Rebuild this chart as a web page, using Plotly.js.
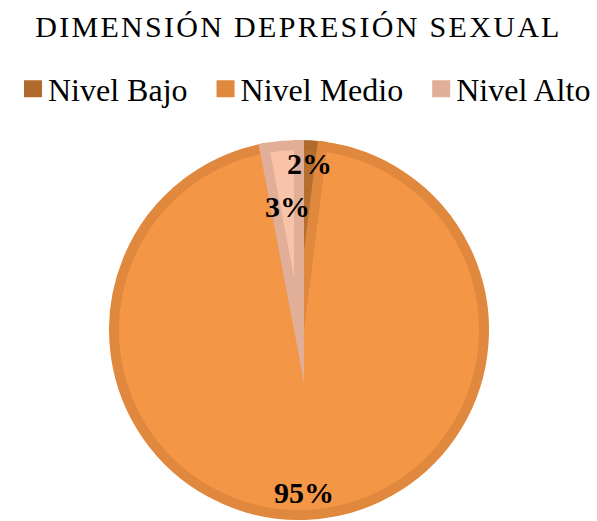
<!DOCTYPE html>
<html>
<head>
<meta charset="utf-8">
<script src="https://cdn.plot.ly/plotly-3.0.1.min.js"></script>
<style>
html, body { margin: 0; padding: 0; background: #fff; }
#chart { width: 597px; height: 521px; }
.slice path { stroke-miterlimit: 20 !important; stroke-linejoin: miter !important; }
.gtitle { letter-spacing: 2.3px; }
.legendpie { d: path("M4.5,4H-4.5V-4H4.5Z"); stroke-width: 9px !important; transform: translate(33px, 0px); }
</style>
</head>
<body>
<div id="chart"></div>
<script>
// ---- data ----
const categories = ["Nivel Bajo", "Nivel Medio", "Nivel Alto"];
const values = [2, 95, 3];
const chartTitle = "DIMENSIÓN DEPRESIÓN SEXUAL";

// ---- styles ----
const fillColors = ["#B5702F", "#F39646", "#F8C3A8"];
const lineColors = ["#B06B2C", "#E0883E", "#E1AE97"];
const labelRadius = [0.9, 0.88, 0.67];   // fraction of radius for value labels

const W = 597, H = 521;
const margin = {l: 0, r: 0, t: 140, b: 0, autoexpand: false};
const cx = 299, cy = 330, R = 185;   // pie centre / radius in pixels
const plotH = H - margin.t - margin.b, plotW = W - margin.l - margin.r;

const domain = {
  x: [(cx - R - margin.l) / plotW, (cx + R - margin.l) / plotW],
  y: [(H - margin.b - (cy + R)) / plotH, (H - margin.b - (cy - R)) / plotH]
};

const total = values.reduce((a, b) => a + b, 0);
const annotations = [];
let cum = 0;
values.forEach((v, i) => {
  const mid = (cum + v / 2) / total * 2 * Math.PI;
  cum += v;
  const r = labelRadius[i] * R;
  const px = cx + r * Math.sin(mid);
  const py = cy - r * Math.cos(mid);
  annotations.push({
    xref: "paper", yref: "paper",
    x: (px - margin.l) / plotW,
    y: (H - margin.b - py) / plotH,
    xanchor: "center", yanchor: "middle",
    showarrow: false,
    text: "<b>" + Math.round(v / total * 100) + "%</b>",
    font: {family: "Liberation Serif", size: 30, color: "#000"}
  });
});

const trace = {
  type: "pie",
  labels: categories,
  values: values,
  sort: false,
  direction: "clockwise",
  rotation: 0,
  textinfo: "none",
  hoverinfo: "label+percent",
  domain: domain,
  marker: {colors: fillColors, line: {color: lineColors, width: 10}}
};

const layout = {
  width: W, height: H,
  margin: margin,
  paper_bgcolor: "#fff",
  plot_bgcolor: "#fff",
  font: {family: "Liberation Serif", color: "#000"},
  title: {
    text: chartTitle,
    font: {family: "Liberation Serif", size: 30, color: "#000"},
    x: 0.5, xanchor: "center",
    y: 1 - 26 / H, yref: "container", yanchor: "middle"
  },
  showlegend: true,
  legend: {
    orientation: "h",
    x: 0, xanchor: "left",
    y: 1 - 89 / H, yref: "container", yanchor: "middle",
    font: {family: "Liberation Serif", size: 32, color: "#000"},
    itemwidth: 38,
    traceorder: "normal"
  },
  annotations: annotations
};

Plotly.newPlot("chart", [trace], layout, {displayModeBar: false, staticPlot: true});
</script>
</body>
</html>
